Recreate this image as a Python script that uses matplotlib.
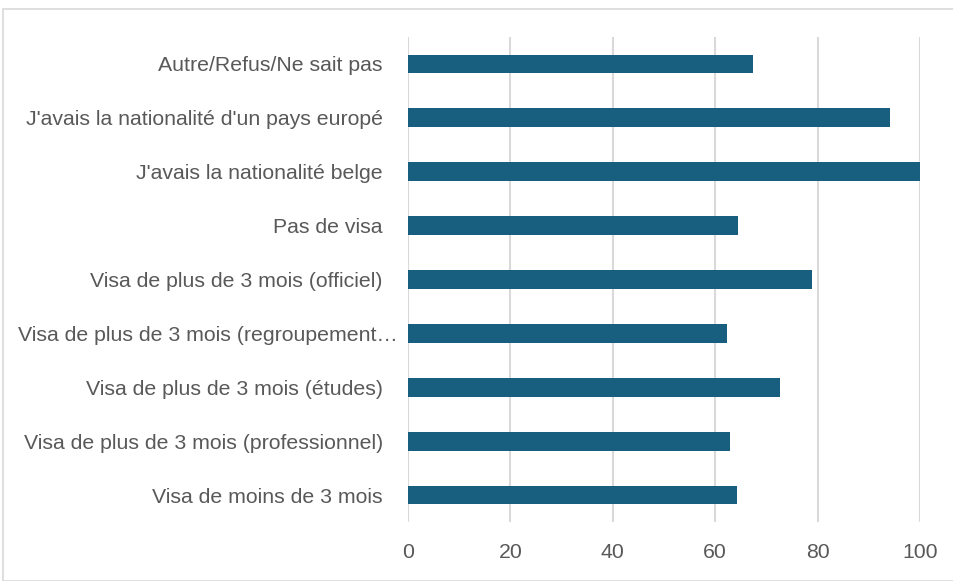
import matplotlib.pyplot as plt
import matplotlib.transforms as mtransforms
from matplotlib.patches import Rectangle

categories = [
    "Visa de moins de 3 mois",
    "Visa de plus de 3 mois (professionnel)",
    "Visa de plus de 3 mois (études)",
    "Visa de plus de 3 mois (regroupement…",
    "Visa de plus de 3 mois (officiel)",
    "Pas de visa",
    "J'avais la nationalité belge",
    "J'avais la nationalité d'un pays europé",
    "Autre/Refus/Ne sait pas",
]
values = [64.3, 62.8, 72.7, 62.3, 79.0, 64.4, 100.0, 94.1, 67.3]
xticks = [0, 20, 40, 60, 80, 100]

text_color = "#595959"
bar_color = "#175E7F"
grid_color = "#D9D9D9"

plt.rcParams["font.family"] = ["Liberation Sans", "DejaVu Sans"]

fig = plt.figure(figsize=(9.54, 5.81), dpi=100)
ax = fig.add_axes([408 / 954, 59 / 581, 512 / 954, 485 / 581])

ax.barh(range(len(categories)), values, height=0.35, color=bar_color, zorder=3)
ax.set_xlim(0, 100)
ax.set_ylim(-0.5, len(categories) - 0.5)
ax.set_xticks(xticks)
ax.set_xticklabels([str(t) for t in xticks])
ax.set_yticks(range(len(categories)))
ax.set_yticklabels(categories)

ax.grid(axis="x", color=grid_color, linewidth=1.5, zorder=0)
ax.set_axisbelow(True)
for s in ax.spines.values():
    s.set_visible(False)
ax.tick_params(axis="both", length=0, colors=text_color, labelsize=15.3)
ax.tick_params(axis="y", pad=18)
ax.tick_params(axis="x", pad=15)

# the truncated label runs a little further right, like the original
for lbl in ax.get_yticklabels():
    if lbl.get_text().endswith("…"):
        lbl.set_transform(lbl.get_transform() +
                          mtransforms.ScaledTranslation(15 / 100, 0, fig.dpi_scale_trans))

# chart area border
fig.patches.append(Rectangle((3.5 / 954, 0), 1, (581 - 8.5) / 581,
                             transform=fig.transFigure, fill=False,
                             edgecolor=grid_color, linewidth=1.2))

fig.savefig("out.png", dpi=100)
